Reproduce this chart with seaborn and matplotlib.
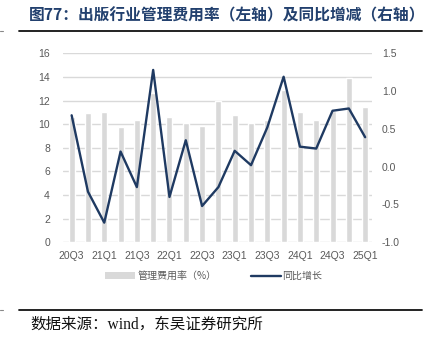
import numpy as np
import matplotlib
matplotlib.use("Agg")
import matplotlib.pyplot as plt
import seaborn as sns
from matplotlib.patches import Patch
from matplotlib.lines import Line2D

quarters = ['20Q3', '20Q4', '21Q1', '21Q2', '21Q3', '21Q4', '22Q1', '22Q2', '22Q3', '22Q4',
            '23Q1', '23Q2', '23Q3', '23Q4', '24Q1', '24Q2', '24Q3', '24Q4', '25Q1']
rates = [10.64, 10.98, 11.0, 9.76, 10.36, 12.6, 10.6, 10.1, 9.85, 11.97,
         10.8, 10.07, 10.36, 12.9, 11.06, 10.35, 11.1, 13.88, 11.43]
yoy = [0.68, -0.33, -0.74, 0.20, -0.27, 1.28, -0.40, 0.35, -0.52, -0.27,
       0.21, 0.02, 0.52, 1.19, 0.265, 0.24, 0.74, 0.77, 0.39]
left_ticks = [0, 2, 4, 6, 8, 10, 12, 14, 16]
right_ticks = [-1.0, -0.5, 0.0, 0.5, 1.0, 1.5]
title = '图77：出版行业管理费用率（左轴）及同比增减（右轴）'
source = '数据来源：wind，东吴证券研究所'
bar_label = '管理费用率（%）'
line_label = '同比增长'

sns.set_theme(style='white')
plt.rcParams['font.family'] = ['Liberation Sans', 'Noto Sans CJK SC', 'DejaVu Sans']

W, H = 429, 341
fig = plt.figure(figsize=(W / 100, H / 100), dpi=100)
ax = fig.add_axes([63 / W, (H - 242.3) / H, (372 - 63) / W, (242.3 - 53.3) / H])

bar_color = '#D9D9D9'
line_color = '#1F3A62'
tick_color = '#595959'

sns.barplot(x=quarters, y=rates, color=bar_color, saturation=1, width=0.37, ax=ax, zorder=2)
ax.set_ylim(0, 16)
ax.set_yticks(left_ticks)
ax.set_yticklabels([str(t) for t in left_ticks])
ax.set_xlim(-0.53, 18.42)
ax.set_xticks(range(0, len(quarters), 2))
ax.set_xticklabels(quarters[::2])
ax.grid(axis='y', color='#D9D9D9', linewidth=1.0, zorder=0)
ax.set_axisbelow(True)
ax.set_xlabel('')
ax.set_ylabel('')
for s in ax.spines.values():
    s.set_visible(False)
ax.tick_params(axis='y', length=0, pad=9.4, labelsize=7.5, labelcolor=tick_color)
ax.tick_params(axis='x', length=0, pad=6, labelsize=7.5, labelcolor=tick_color)

ax2 = ax.twinx()
sns.lineplot(x=np.arange(len(quarters)), y=yoy, ax=ax2, color=line_color, linewidth=1.7)
ax2.set_ylim(-1.0, 1.5)
ax2.set_yticks(right_ticks)
ax2.set_yticklabels([f'{t:.1f}' for t in right_ticks])
ax2.set_xlim(-0.53, 18.42)
for s in ax2.spines.values():
    s.set_visible(False)
ax2.tick_params(axis='y', length=0, pad=7, labelsize=7.5, labelcolor=tick_color)
ax2.set_ylabel('')
ax2.grid(False)

handles = [Patch(facecolor=bar_color, edgecolor='none'),
           Line2D([0], [0], color=line_color, linewidth=1.7)]
leg = fig.legend(handles, [bar_label, line_label], loc='center',
                 bbox_to_anchor=(214 / W, (H - 276) / H), ncol=2, frameon=False,
                 prop={'family': ['Noto Sans CJK SC', 'DejaVu Sans'], 'size': 7.2},
                 handlelength=3.0, handleheight=0.6, handletextpad=0.2, columnspacing=3.4)
for t in leg.get_texts():
    t.set_color(tick_color)

fig.text(29 / W, 1 - 15.5 / H, title, ha='left', va='center', fontsize=11.3,
         fontweight='bold', color='#22406E', family=['Noto Sans CJK SC', 'DejaVu Sans'])
fig.text(30 / W, 1 - 325 / H, source, ha='left', va='center', fontsize=11.2,
         color='#111111', family=['Liberation Serif', 'Noto Sans CJK SC', 'DejaVu Sans'])

for yy in (31.3, 309.5):
    fig.add_artist(Line2D([19 / W, 422 / W], [1 - yy / H, 1 - yy / H],
                          color='#111111', linewidth=1.3, transform=fig.transFigure))
    fig.add_artist(Line2D([0, 3 / W], [1 - yy / H, 1 - yy / H],
                          color='#888888', linewidth=0.8, transform=fig.transFigure))

fig.savefig('out.png', dpi=100)
